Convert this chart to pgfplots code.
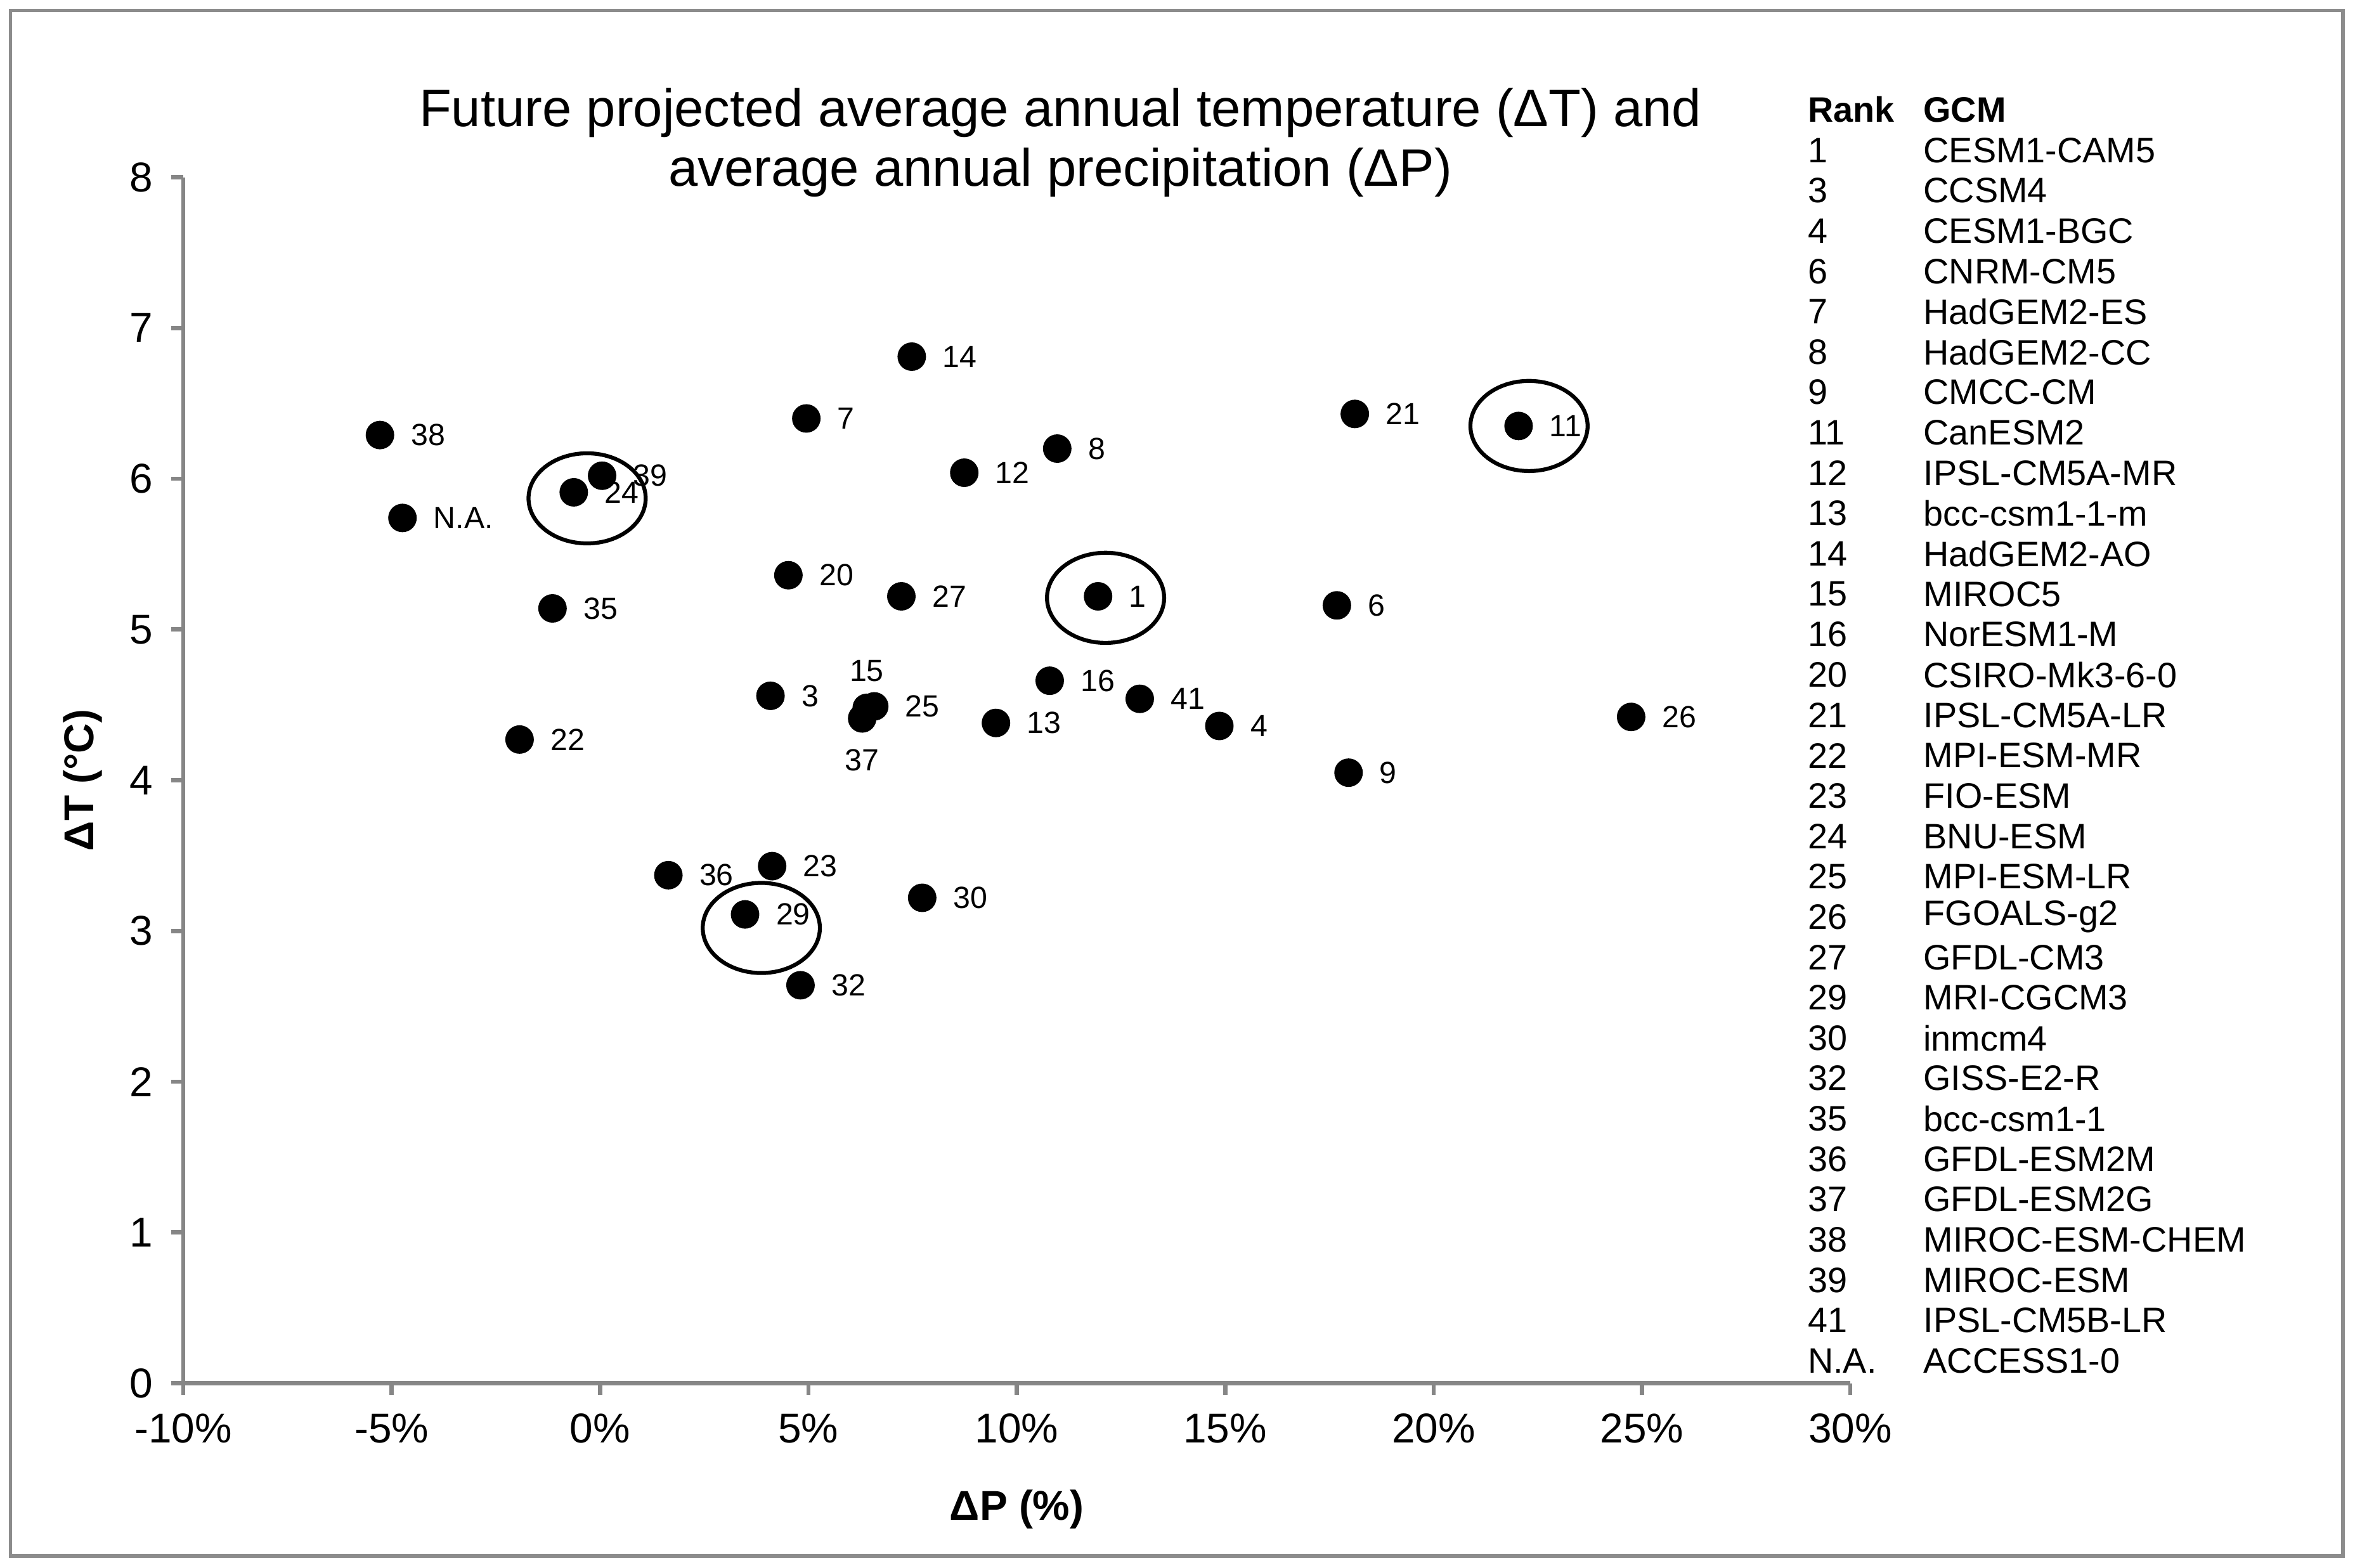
\documentclass[border=0pt]{standalone}
\usepackage{fontspec}
\setmainfont{Liberation Sans}
\usepackage{pgfplots}
\pgfplotsset{compat=1.18}
\usepackage{pgfplotstable}

\definecolor{axisgray}{RGB}{134,134,134}
\definecolor{framegray}{RGB}{140,140,140}

% dP (%)  dT (degC)  rank
\pgfplotstableread{
x y lab
-5.28 6.29 38
-4.74 5.74 N.A.
-0.63 5.91 24
0.05 6.02 39
-1.14 5.14 35
-1.93 4.27 22
1.64 3.37 36
3.48 3.11 29
4.13 3.43 23
4.81 2.64 32
4.09 4.56 3
4.52 5.36 20
4.95 6.40 7
7.48 6.81 14
6.58 4.49 25
7.23 5.22 27
7.73 3.22 30
8.74 6.04 12
9.50 4.38 13
10.97 6.20 8
10.79 4.66 16
11.95 5.22 1
12.95 4.54 41
14.86 4.36 4
17.68 5.16 6
17.96 4.05 9
18.11 6.43 21
22.04 6.35 11
24.74 4.42 26
}\rightpts

\pgfplotstableread{
x y lab
6.40 4.48 15
}\abovepts

\pgfplotstableread{
x y lab
6.29 4.41 37
}\belowpts

\begin{document}
\begin{tikzpicture}[x=1cm,y=1cm]
\useasboundingbox (0,0) rectangle (15.68,10.44);
\draw[framegray, line width=0.7pt] (0.07,0.08) rectangle (15.60,10.37);

\begin{axis}[
  at={(1.22cm,1.23cm)}, anchor=south west,
  scale only axis, width=11.10cm, height=8.03cm,
  xmin=-10, xmax=30, ymin=0, ymax=8,
  xtick={-10,-5,...,30},
  xticklabels={-10\%,-5\%,0\%,5\%,10\%,15\%,20\%,25\%,30\%},
  ytick={0,1,...,8},
  axis lines=left,
  axis line style={-, axisgray, line width=0.8pt},
  every tick/.style={axisgray, line width=0.8pt},
  tick align=outside, major tick length=0.08cm,
  /pgf/number format/assume math mode=true,
  ticklabel style={font=\fontsize{7.9}{9}\selectfont},
  xlabel={\textbf{ΔP (\%)}},
  ylabel={\textbf{ΔT (°C)}},
  label style={font=\fontsize{7.9}{9}\selectfont},
  xlabel style={at={(axis description cs:0.5,-0.1046)}, anchor=center},
  ylabel style={at={(axis description cs:-0.0604,0.5)}, anchor=center},
  clip=false,
  point meta=explicit symbolic,
]
\addplot[only marks, mark=*, mark size=2.5pt, mark options={fill=black, draw=black},
  nodes near coords,
  every node near coord/.append style={anchor=west, xshift=0.2cm, inner sep=0pt,
    text=black, font=\fontsize{5.8}{7}\selectfont}]
  table[x=x, y=y, meta=lab] {\rightpts};
\addplot[only marks, mark=*, mark size=2.5pt, mark options={fill=black, draw=black},
  nodes near coords,
  every node near coord/.append style={anchor=south, yshift=0.17cm, inner sep=0pt,
    text=black, font=\fontsize{5.8}{7}\selectfont}]
  table[x=x, y=y, meta=lab] {\abovepts};
\addplot[only marks, mark=*, mark size=2.5pt, mark options={fill=black, draw=black},
  nodes near coords,
  every node near coord/.append style={anchor=north, yshift=-0.2cm, inner sep=0pt,
    text=black, font=\fontsize{5.8}{7}\selectfont}]
  table[x=x, y=y, meta=lab] {\belowpts};
% highlighted models
\addplot[only marks, mark=o, mark size=0.30cm,
  mark options={xscale=1.3, line width=0.75pt, draw=black}]
  coordinates {(12.13,5.21) (22.29,6.35) (3.87,3.02) (-0.31,5.87)};
\end{axis}

\node[align=center, font=\fontsize{10}{11.4}\selectfont] at (7.06,9.49)
  {Future projected average annual temperature (ΔT) and\\average annual precipitation (ΔP)};

\node[anchor=west, inner sep=0pt, font=\fontsize{6.7}{8}\selectfont\bfseries] at (12.03,9.71) {Rank};
\node[anchor=west, inner sep=0pt, font=\fontsize{6.7}{8}\selectfont\bfseries] at (12.80,9.71) {GCM};
\foreach \r/\n [count=\i from 0] in {1/CESM1-CAM5, 3/CCSM4, 4/CESM1-BGC, 6/CNRM-CM5,
  7/HadGEM2-ES, 8/HadGEM2-CC, 9/CMCC-CM, 11/CanESM2, 12/IPSL-CM5A-MR, 13/bcc-csm1-1-m,
  14/HadGEM2-AO, 15/MIROC5, 16/NorESM1-M, 20/CSIRO-Mk3-6-0, 21/IPSL-CM5A-LR,
  22/MPI-ESM-MR, 23/FIO-ESM, 24/BNU-ESM, 25/MPI-ESM-LR, 26/FGOALS-g2, 27/GFDL-CM3,
  29/MRI-CGCM3, 30/inmcm4, 32/GISS-E2-R, 35/bcc-csm1-1, 36/GFDL-ESM2M, 37/GFDL-ESM2G,
  38/MIROC-ESM-CHEM, 39/MIROC-ESM, 41/IPSL-CM5B-LR, N.A./ACCESS1-0} {
  \node[anchor=west, inner sep=0pt, font=\fontsize{6.7}{8}\selectfont] at (12.03,{9.44-0.2687*\i}) {\r};
  \node[anchor=west, inner sep=0pt, font=\fontsize{6.7}{8}\selectfont] at (12.80,{9.44-0.2687*\i}) {\n};
}
\end{tikzpicture}
\end{document}
